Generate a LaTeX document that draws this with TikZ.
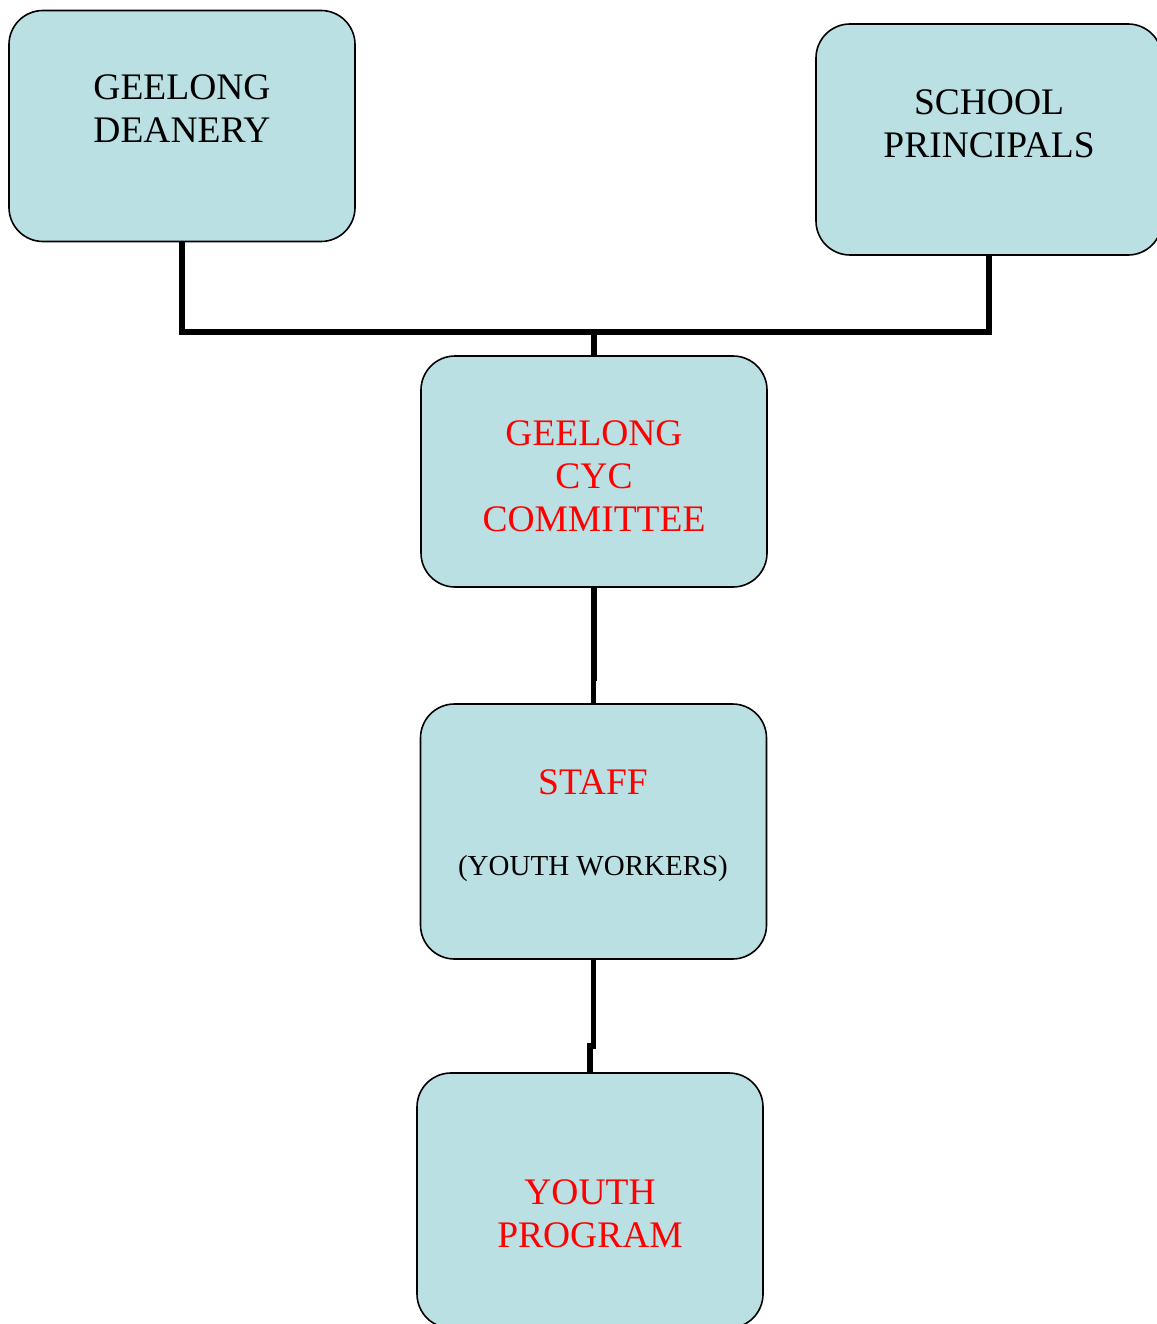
\documentclass[tikz,border=0pt]{standalone}
\usepackage{fontspec}
\setmainfont{Liberation Serif}
\definecolor{boxblue}{RGB}{187,224,227}
\definecolor{cycred}{RGB}{255,0,0}
\begin{document}
\begin{tikzpicture}[x=1pt,y=-1pt,
  orgbox/.style={draw=black, line width=1.6pt, fill=boxblue, rounded corners=34pt,
    minimum width=346pt, minimum height=231pt, inner sep=0pt},
  tallbox/.style={orgbox, minimum height=255pt},
  bigtext/.style={align=center, inner sep=0pt, font=\fontsize{37.5}{43}\selectfont},
  smalltext/.style={align=center, inner sep=0pt, font=\fontsize{29}{34}\selectfont},
  link/.style={line width=5.5pt}]
  \useasboundingbox (0,0) rectangle (1156,1324);
  % the five boxes
  \node[orgbox] (deanery) at (182,126) {};
  \node[orgbox] (principals) at (989,139.5) {};
  \node[orgbox] (committee) at (594,471.5) {};
  \node[tallbox] (staff) at (593.5,831.5) {};
  \node[tallbox] (youth) at (590,1200.5) {};
  % their texts
  \node[bigtext] (deanerytext) at (182,108.5) {GEELONG\\DEANERY};
  \node[bigtext] (principalstext) at (989,124) {SCHOOL\\PRINCIPALS};
  \node[bigtext, text=cycred] (committeetext) at (594,476) {GEELONG\\CYC\\COMMITTEE};
  \node[bigtext, text=cycred] (stafftext) at (593,782.5) {STAFF};
  \node[smalltext] (workerstext) at (593,869) {(YOUTH WORKERS)};
  \node[bigtext, text=cycred] (youthtext) at (590,1214) {YOUTH\\PROGRAM};
  % connectors
  \coordinate (bus) at (594,332);
  \draw[link] (deanery.south) |- (bus) -| (principals.south);
  \draw[link] (bus) -- (committee.north);
  \draw[link] (committee.south) -- ++(0,90) -| (staff.north);
  \draw[link] (staff.south) -- ++(0,86) -| (youth.north);
\end{tikzpicture}
\end{document}
